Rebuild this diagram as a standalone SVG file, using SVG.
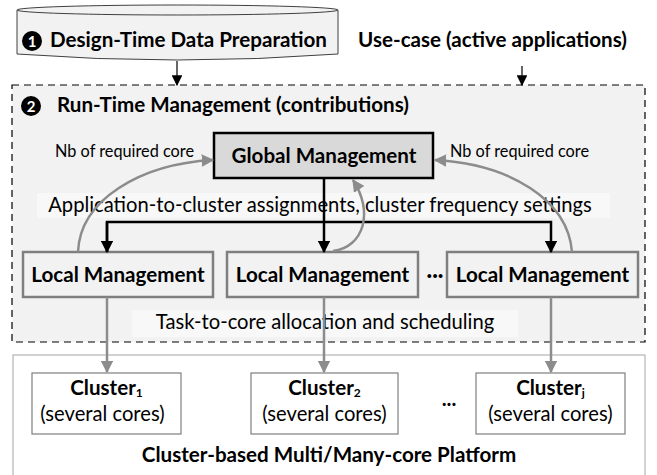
<svg xmlns="http://www.w3.org/2000/svg" width="657" height="475" viewBox="0 0 657 475">
  <style>
    text { font-family: Lato, "Open Sans", "Liberation Sans", sans-serif; fill: #000; }
    .h { font-size: 20.6px; font-weight: bold; }
    .lbl { font-size: 16.3px; }
    .band { font-size: 20.2px; }
    .sub { font-size: 12px; }
    .num { font-size: 15px; font-weight: bold; fill: #fff; }
    .local { fill: #f2f2f2; stroke: #7f7f7f; stroke-width: 2.5; }
    .clu { fill: #fff; stroke: #7f7f7f; stroke-width: 1.2; }
    .blk { stroke: #000; stroke-width: 2.5; fill: none; }
    .gry { stroke: #8c8c8c; stroke-width: 2.5; fill: none; }
    .thin { stroke: #000; stroke-width: 1.2; fill: none; }
  </style>
  <defs>
    <marker id="ahBlack" viewBox="0 0 10 10" refX="9" refY="5" markerWidth="5" markerHeight="5" orient="auto" markerUnits="strokeWidth">
      <path d="M0,0 L10,5 L0,10 z" fill="#000"/>
    </marker>
    <marker id="ahGray" viewBox="0 0 10 10" refX="9" refY="5" markerWidth="5" markerHeight="5" orient="auto" markerUnits="strokeWidth">
      <path d="M0,0 L10,5 L0,10 z" fill="#8c8c8c"/>
    </marker>
    <marker id="ahThin" viewBox="0 0 10 10" refX="9" refY="5" markerWidth="9" markerHeight="9" orient="auto" markerUnits="strokeWidth">
      <path d="M0,0 L10,5 L0,10 z" fill="#000"/>
    </marker>
  </defs>

  <rect width="657" height="475" fill="#fff"/>

  <!-- design-time data store (cylinder) -->
  <g id="design-time">
    <path d="M17,10 L17,54 Q177.5,66 338,54 L338,10" fill="#f2f2f2" stroke="#404040" stroke-width="1"/>
    <ellipse cx="177.5" cy="10" rx="160.5" ry="5" fill="#f2f2f2" stroke="#404040" stroke-width="1"/>
    <circle cx="32" cy="41" r="10" fill="#000"/>
    <text x="32" y="46.5" text-anchor="middle" class="num">1</text>
    <text x="50" y="47" class="h">Design-Time Data Preparation</text>
  </g>

  <g id="use-case">
    <text x="492.5" y="47" text-anchor="middle" class="h">Use-case (active applications)</text>
  </g>

  <!-- run-time management area -->
  <g id="run-time">
    <rect x="12" y="85" width="633" height="257" fill="#f2f2f2" stroke="#000" stroke-width="1.2" stroke-dasharray="7,5"/>
    <circle cx="31" cy="106" r="10" fill="#000"/>
    <text x="31" y="111.5" text-anchor="middle" class="num">2</text>
    <text x="57" y="112" class="h">Run-Time Management (contributions)</text>
    <rect x="37" y="193" width="573" height="25" fill="#f8f8f8"/>
    <text x="320" y="212" text-anchor="middle" class="band">Application-to-cluster assignments, cluster frequency settings</text>
    <rect x="132" y="310" width="386" height="27" fill="#f8f8f8"/>
    <text x="325" y="329" text-anchor="middle" class="band">Task-to-core allocation and scheduling</text>
  </g>

  <g id="global">
    <rect x="214" y="133" width="219" height="45" fill="#d9d9d9" stroke="#000" stroke-width="2.5"/>
    <text x="324" y="163" text-anchor="middle" class="h">Global Management</text>
  </g>

  <g id="local-1">
    <rect x="23" y="252" width="190" height="45" class="local"/>
    <text x="118" y="282" text-anchor="middle" class="h">Local Management</text>
  </g>
  <g id="local-2">
    <rect x="227" y="252" width="191" height="45" class="local"/>
    <text x="322.5" y="282" text-anchor="middle" class="h">Local Management</text>
  </g>
  <text x="435" y="282" text-anchor="middle" class="h">···</text>
  <g id="local-j">
    <rect x="447" y="252" width="191" height="45" class="local"/>
    <text x="542.5" y="282" text-anchor="middle" class="h">Local Management</text>
  </g>

  <!-- platform -->
  <g id="platform">
    <rect x="13" y="355" width="632" height="125" fill="#fff" stroke="#a6a6a6" stroke-width="1"/>
    <text x="329" y="462" text-anchor="middle" class="h">Cluster-based Multi/Many-core Platform</text>
  </g>
  <g id="cluster-1">
    <rect x="32" y="373" width="149" height="61" class="clu"/>
    <text x="106.5" y="395" text-anchor="middle" class="h">Cluster<tspan class="sub" dy="2">1</tspan></text>
    <text x="102.5" y="421" text-anchor="middle" class="band">(several cores)</text>
  </g>
  <g id="cluster-2">
    <rect x="251" y="373" width="147" height="61" class="clu"/>
    <text x="324.5" y="395" text-anchor="middle" class="h">Cluster<tspan class="sub" dy="2">2</tspan></text>
    <text x="324.5" y="421" text-anchor="middle" class="band">(several cores)</text>
  </g>
  <text x="449" y="406" text-anchor="middle" class="h">...</text>
  <g id="cluster-j">
    <rect x="476" y="373" width="149" height="61" class="clu"/>
    <text x="550.5" y="395" text-anchor="middle" class="h">Cluster<tspan class="sub" dy="2">j</tspan></text>
    <text x="550.5" y="421" text-anchor="middle" class="band">(several cores)</text>
  </g>

  <!-- connectors -->
  <g id="connectors">
    <line x1="177" y1="61" x2="177" y2="85" class="thin" marker-end="url(#ahThin)"/>
    <line x1="522" y1="66" x2="522" y2="85" class="thin" marker-end="url(#ahThin)"/>

    <line x1="324" y1="178" x2="324" y2="252" class="blk" marker-end="url(#ahBlack)"/>
    <polyline points="107,252 107,222 551,222 551,252" class="blk" marker-end="url(#ahBlack)"/>
    <line x1="107" y1="222" x2="107" y2="252" class="blk" marker-end="url(#ahBlack)"/>

    <path d="M78,252 C80,200 140,164 213,160" class="gry" marker-end="url(#ahGray)"/>
    <text x="55" y="157" class="lbl">Nb of required core</text>
    <path d="M572,252 C568,200 510,164 435,160" class="gry" marker-end="url(#ahGray)"/>
    <text x="450" y="157" class="lbl">Nb of required core</text>
    <path d="M333,251 C364,247 374,212 353,180" class="gry" marker-end="url(#ahGray)"/>

    <line x1="107" y1="297" x2="107" y2="372" class="gry" marker-end="url(#ahGray)"/>
    <line x1="324" y1="297" x2="324" y2="372" class="gry" marker-end="url(#ahGray)"/>
    <line x1="551" y1="297" x2="551" y2="372" class="gry" marker-end="url(#ahGray)"/>
  </g>
</svg>
